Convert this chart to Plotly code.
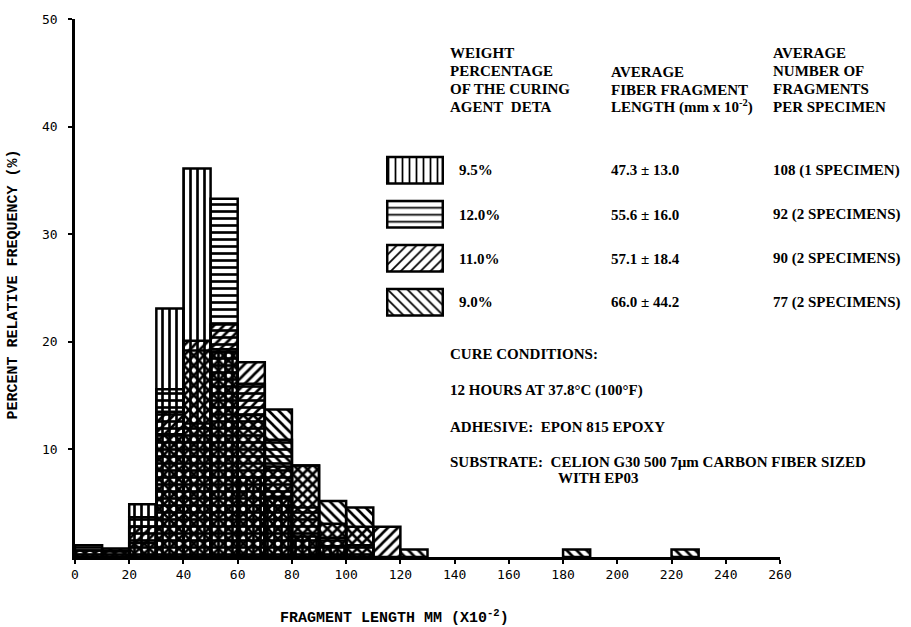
import plotly.graph_objects as go

# ---------------- data ----------------
bin_left = list(range(0, 260, 10))          # 26 bins of width 10 (mm x 10^-2)
bin_width = 10

# percent relative frequency per bin, one list per curing-agent level
pct_9_5 = [0, 0, 4.9, 23.1, 36.1, 19.0, 7.4, 5.6, 1.9, 1.0, 0, 0, 0,
           0, 0, 0, 0, 0, 0, 0, 0, 0, 0, 0, 0, 0]
pct_12_0 = [1.1, 0.5, 3.7, 15.6, 12.4, 33.3, 16.1, 10.9, 4.6, 1.8, 1.1, 0, 0,
            0, 0, 0, 0, 0, 0, 0, 0, 0, 0, 0, 0, 0]
pct_11_0 = [0.6, 0.6, 2.8, 13.5, 20.1, 21.6, 18.1, 8.4, 8.5, 3.1, 2.8, 2.8, 0,
            0, 0, 0, 0, 0, 0, 0, 0, 0, 0, 0, 0, 0]
pct_9_0 = [0.6, 0.8, 1.3, 11.4, 19.2, 19.3, 13.2, 13.7, 8.5, 5.2, 4.6, 0, 0.7,
           0, 0, 0, 0, 0, 0.7, 0, 0, 0, 0.7, 0, 0, 0]

series_names = ["9.5%", "12.0%", "11.0%", "9.0%"]
series_values = [pct_9_5, pct_12_0, pct_11_0, pct_9_0]
series_patterns = ["|", "-", "/", "\\"]
mean_lengths = ["47.3 ± 13.0", "55.6 ± 16.0", "57.1 ± 18.4", "66.0 ± 44.2"]
fragment_counts = ["108 (1 SPECIMEN)", "92 (2 SPECIMENS)",
                   "90 (2 SPECIMENS)", "77 (2 SPECIMENS)"]

x_ticks = list(range(0, 261, 20))
y_ticks = [10, 20, 30, 40, 50]

# ---------------- layout helpers ----------------
L, R, T, B = 75, 131, 16, 70
W, H = 911, 627
PW, PH = W - L - R, H - T - B


def px(x):
    return (x - L) / PW


def py(y):
    return (H - B - y) / PH


SERIF = "Liberation Serif"
MONO = "DejaVu Sans Mono"

fig = go.Figure()

centers = [b + bin_width / 2 for b in bin_left]
for name, vals, pat in zip(series_names, series_values, series_patterns):
    fig.add_trace(go.Bar(
        x=centers,
        y=[v if v > 0 else None for v in vals],
        width=bin_width,
        name=name,
        marker=dict(
            color="rgba(0,0,0,0)",
            line=dict(color="black", width=2.5),
            pattern=dict(shape=pat, fillmode="replace", fgcolor="black",
                         bgcolor="rgba(0,0,0,0)", size=7, solidity=0.38),
        ),
        hoverinfo="skip",
    ))

# legend swatches on a small auxiliary axis
for i, (name, pat) in enumerate(zip(series_names, series_patterns)):
    fig.add_trace(go.Bar(
        x=[1], y=[3 - i], base=[0], orientation="h", width=0.6,
        xaxis="x2", yaxis="y2", showlegend=False, hoverinfo="skip",
        marker=dict(
            color="rgba(0,0,0,0)",
            line=dict(color="black", width=2.5),
            pattern=dict(shape=pat, fillmode="replace", fgcolor="black",
                         bgcolor="rgba(0,0,0,0)", size=7, solidity=0.25),
        ),
    ))

annotations = []


def text(x, y, s, size=15, font=SERIF, bold=True, anchor="left", **kw):
    annotations.append(dict(
        x=px(x), y=py(y), xref="paper", yref="paper", text=(f"<b>{s}</b>" if bold else s),
        showarrow=False, xanchor=anchor, yanchor="middle",
        font=dict(family=font, size=size, color="black"), **kw))


NB = "\u00a0"
# column headers
for s, y in zip(["WEIGHT", "PERCENTAGE", "OF THE CURING", f"AGENT{NB}{NB}DETA"], [50, 68, 86, 104]):
    text(448, y, s)
for s, y in zip(["AVERAGE", "FIBER FRAGMENT", "LENGTH (mm x 10<sup>-2</sup>)"], [69, 87, 104]):
    text(609, y, s)
for s, y in zip(["AVERAGE", "NUMBER OF", "FRAGMENTS", "PER SPECIMEN"], [50, 68, 86, 104]):
    text(771, y, s)

row_y = [168, 213, 257, 301]
for name, m, c, y in zip(series_names, mean_lengths, fragment_counts, row_y):
    text(457, y, name)
    text(609, y, m)
    text(771, y, c)

text(448, 353, "CURE CONDITIONS:")
text(448, 390, "12 HOURS AT 37.8°C (100°F)")
text(448, 426, f"ADHESIVE:{NB}{NB}EPON 815 EPOXY")
text(448, 461, f"SUBSTRATE:{NB}{NB}CELION G30 500 7µm CARBON FIBER SIZED")
text(556, 478, "WITH EP03")

# axis titles
text(394, 617, "FRAGMENT LENGTH MM (X10<sup>-2</sup>)", size=15, font="Liberation Mono",
     anchor="center")
text(14, 283, "PERCENT RELATIVE FREQUENCY (%)", size=15, font="Liberation Mono",
     anchor="center", textangle=-90)

fig.update_layout(
    width=W, height=H,
    margin=dict(l=L, r=R, t=T, b=B),
    paper_bgcolor="white", plot_bgcolor="white",
    barmode="overlay", showlegend=False,
    annotations=annotations,
    xaxis=dict(range=[0, 260], tickvals=x_ticks, showgrid=False, zeroline=False,
               showline=True, linecolor="black", linewidth=2.5,
               ticks="outside", ticklen=4, tickwidth=2, tickcolor="black",
               tickfont=dict(family=MONO, size=13, color="black")),
    yaxis=dict(range=[0, 50], tickvals=y_ticks, showgrid=False, zeroline=False,
               showline=True, linecolor="black", linewidth=2.5,
               ticks="outside", ticklen=4, tickwidth=2, tickcolor="black",
               ticklabelstandoff=8,
               tickfont=dict(family=MONO, size=13, color="black")),
    xaxis2=dict(domain=[px(385), px(445)], range=[-0.04, 1.04], anchor="y2",
                visible=False, fixedrange=True),
    yaxis2=dict(domain=[py(323), py(146)], range=[-0.5, 3.5], anchor="x2",
                visible=False, fixedrange=True),
)

fig.write_html("out.html")
